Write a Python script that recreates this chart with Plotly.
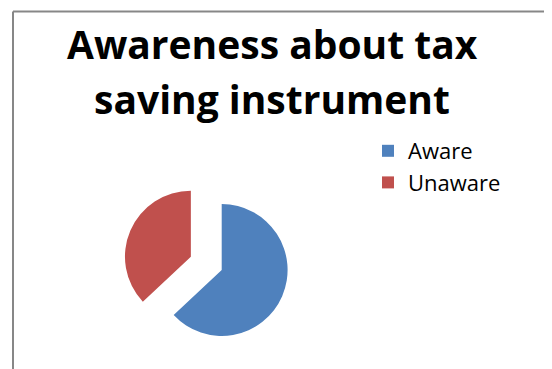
import plotly.graph_objects as go

labels = ["Aware", "Unaware"]
values = [63, 37]
colors = ["#4F81BD", "#C0504D"]
pulls = [0, 0.51]

title_lines = ["Awareness about tax", "saving instrument"]

W, H = 552, 369
# the page body adds an 8px margin; convert reference pixels to figure pixels
OX, OY = 8, 8


def px(x):
    return (x - OX) / W


def py(y):
    return 1 - (y - OY) / H


cx, cy, half = 221.7, 270.0, 99.5

fig = go.Figure(
    go.Pie(
        labels=labels,
        values=values,
        pull=pulls,
        marker=dict(colors=colors, line=dict(width=0)),
        textinfo="none",
        sort=False,
        direction="clockwise",
        rotation=0,
        domain=dict(x=[px(cx - half), px(cx + half)],
                    y=[py(cy + half), py(cy - half)]),
        hoverinfo="label+percent",
    )
)

title_centers_y = [44, 98]
annotations = []
for line, yc in zip(title_lines, title_centers_y):
    annotations.append(dict(
        text="<b>" + line + "</b>",
        x=px(272), xref="paper", xanchor="center",
        y=py(yc), yref="paper", yanchor="middle",
        showarrow=False,
        font=dict(family="Open Sans", size=39, color="black"),
    ))

fig.update_layout(
    width=W,
    height=H,
    margin=dict(l=0, r=0, t=0, b=0),
    paper_bgcolor="white",
    plot_bgcolor="white",
    font=dict(family="Open Sans", color="black"),
    annotations=annotations,
    showlegend=True,
    legend=dict(
        x=px(368),
        xanchor="left",
        y=py(130),
        yanchor="top",
        font=dict(family="Open Sans", size=22, color="black"),
        bgcolor="rgba(0,0,0,0)",
    ),
    shapes=[
        dict(type="line", xref="paper", yref="paper",
             x0=px(13), x1=1.05, y0=py(11.5), y1=py(11.5),
             line=dict(color="#878787", width=2)),
        dict(type="line", xref="paper", yref="paper",
             x0=px(13), x1=px(13), y0=py(11.5), y1=-0.05,
             line=dict(color="#878787", width=2)),
    ],
)

fig.write_html("out.html")
